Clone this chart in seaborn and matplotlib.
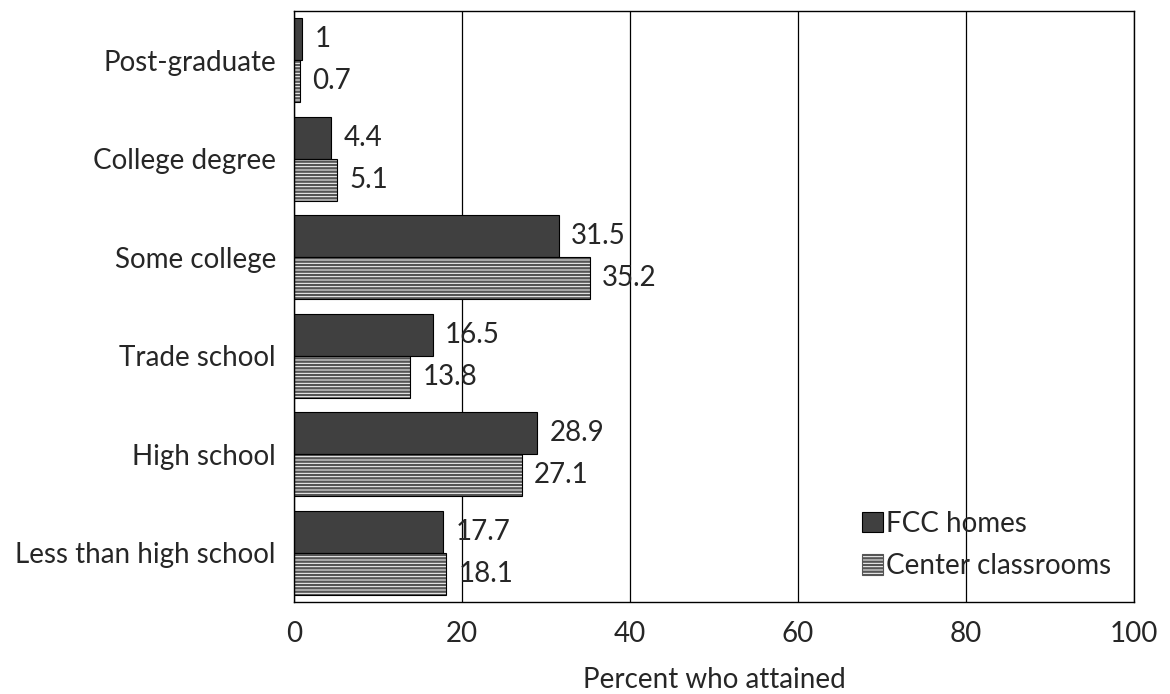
import pandas as pd
import matplotlib
matplotlib.use("Agg")
import matplotlib.pyplot as plt
from matplotlib.patches import Patch, Rectangle
import seaborn as sns

levels = [
    "Post-graduate",
    "College degree",
    "Some college",
    "Trade school",
    "High school",
    "Less than high school",
]
fcc_homes = [1, 4.4, 31.5, 16.5, 28.9, 17.7]
center_classrooms = [0.7, 5.1, 35.2, 13.8, 27.1, 18.1]
groups = ["FCC homes", "Center classrooms"]

DARK = "#404040"
HATCH_GRAY = "#555555"
FS = 20


def build_frame() -> pd.DataFrame:
    rows = []
    for lvl, a, b in zip(levels, fcc_homes, center_classrooms):
        rows.append((lvl, groups[0], a))
        rows.append((lvl, groups[1], b))
    return pd.DataFrame(rows, columns=["level", "group", "pct"])


def main():
    sns.set_style("white")
    plt.rcParams["font.family"] = ["Lato", "DejaVu Sans"]
    plt.rcParams["hatch.linewidth"] = 1.7

    df = build_frame()
    fig = plt.figure(figsize=(11.7, 6.94), dpi=100)
    ax = fig.add_axes([0.2513, 0.1326, 0.9692 - 0.2513, 0.9841 - 0.1326])

    sns.barplot(
        data=df, y="level", x="pct", hue="group", order=levels,
        hue_order=groups, orient="h", palette=[DARK, "white"],
        width=0.85, gap=0, legend=False, ax=ax, saturation=1,
    )

    for bar in ax.containers[0]:
        bar.set_edgecolor("black")
        bar.set_linewidth(0.8)
    # hatched bars: gray stripes, black outline drawn on top
    for bar in ax.containers[1]:
        bar.set_edgecolor(HATCH_GRAY)
        bar.set_hatch("-----")
        bar.set_linewidth(0)
        ax.add_patch(Rectangle(bar.get_xy(), bar.get_width(), bar.get_height(),
                               fill=False, edgecolor="black", linewidth=0.8,
                               zorder=bar.get_zorder() + 0.1))

    ax.bar_label(ax.containers[0], labels=[f"{v:g}" for v in fcc_homes],
                 padding=9, fontsize=FS)
    ax.bar_label(ax.containers[1], labels=[f"{v:g}" for v in center_classrooms],
                 padding=9, fontsize=FS)

    ax.set_xlim(0, 100)
    ax.set_ylim(5.5, -0.5)
    ax.set_xticks([0, 20, 40, 60, 80, 100])
    ax.xaxis.grid(True, color="black", linewidth=0.9)
    ax.yaxis.grid(False)
    ax.set_axisbelow(True)
    ax.tick_params(axis="both", length=0, labelsize=FS)
    ax.tick_params(axis="y", pad=13)
    ax.tick_params(axis="x", pad=14)
    ax.set_ylabel("")
    ax.set_xlabel("Percent who attained", fontsize=FS, labelpad=14)
    for sp in ax.spines.values():
        sp.set_visible(True)
        sp.set_color("black")
        sp.set_linewidth(1.0)

    handles = [
        Patch(facecolor=DARK, edgecolor="black", linewidth=0.8),
        Patch(facecolor="white", edgecolor=HATCH_GRAY, hatch="-----", linewidth=0.8),
    ]
    ax.legend(handles, groups, loc="lower right", bbox_to_anchor=(1.0, 0.0),
              frameon=False, fontsize=FS, handlelength=0.75, handleheight=0.75,
              handletextpad=0.1, labelspacing=0.6, borderaxespad=0.42)

    fig.savefig("out.png", dpi=100)
    plt.close(fig)


if __name__ == "__main__":
    main()
